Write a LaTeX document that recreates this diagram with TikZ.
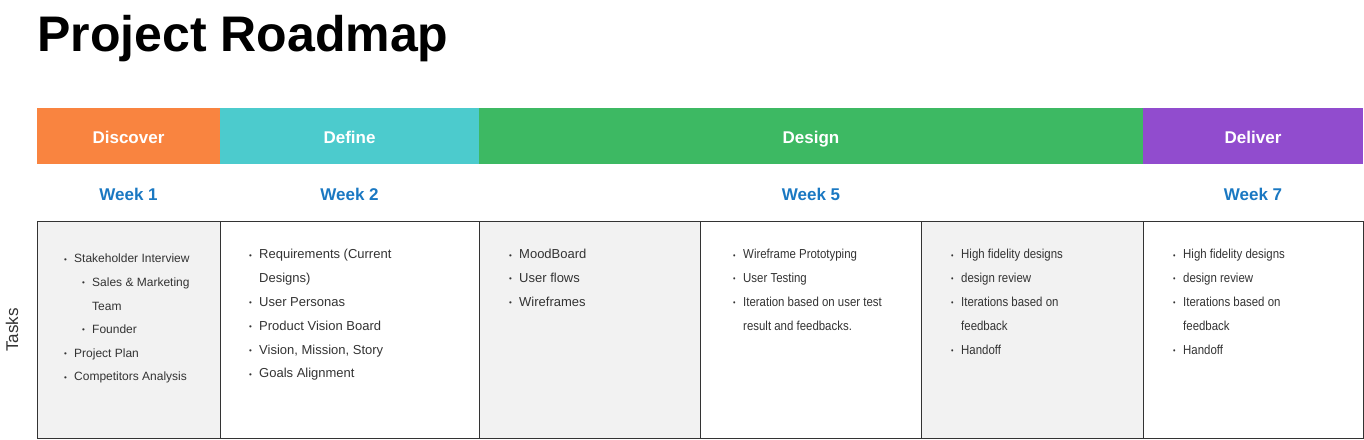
\documentclass[tikz,border=0pt]{standalone}
\usepackage{fontspec}
\setmainfont{Liberation Sans}
\newfontfamily\narrowfont[FakeStretch=0.88]{Liberation Sans}
\usetikzlibrary{positioning}
\definecolor{discoverC}{HTML}{F98440}
\definecolor{defineC}{HTML}{4CCBCD}
\definecolor{designC}{HTML}{3DB963}
\definecolor{deliverC}{HTML}{914CCE}
\definecolor{weekC}{HTML}{1A78C2}
\definecolor{boxfill}{HTML}{F2F2F2}
\definecolor{boxline}{HTML}{333333}
\tikzstyle{phase}=[inner sep=0,outer sep=0,minimum height=56,text=white,
  text height=14.2,text depth=0,font=\fontsize{17}{20}\selectfont\bfseries]
\tikzstyle{week}=[inner sep=0,text=weekC,font=\fontsize{17}{20}\selectfont\bfseries]
\tikzstyle{taskbox}=[draw=boxline,line width=1,inner sep=0,outer sep=0,minimum height=216]
\tikzstyle{tasks}=[inner sep=0,anchor=base west,text=black!80,
  font=\fontsize{13}{23.8}\selectfont]
\newcommand{\bul}{\makebox[10pt][l]{\raisebox{0.8pt}{\fontsize{8}{8}\selectfont\textbullet}}}
\newcommand{\ind}{\hspace*{10pt}}
\newcommand{\newPhase}[5]{\node[phase,fill=#3,minimum width=#4](#1)[#5]{#2};}
\newcommand{\newBox}[4]{\node[taskbox,fill=#2,minimum width=#3](#1)[#4]{};}
\newcommand{\newTasks}[4]{\node[tasks,#3](#1) at ([shift={#4}]#1box.north west)
  {\parbox[t]{200pt}{\raggedright #2}};}

\begin{document}
\begin{tikzpicture}[x=1pt,y=1pt]
      \useasboundingbox (0,0) rectangle (1364,439);
      \node[anchor=base west,inner sep=0,font=\fontsize{50}{56}\selectfont\bfseries]
        (title) at (37,387) {Project Roadmap};
      % phases
      \newPhase{discover}{Discover}{discoverC}{183}{anchor=north west,at={(37,331)}}
      \newPhase{define}{Define}{defineC}{259}{right=0pt of discover}
      \newPhase{design}{Design}{designC}{664}{right=0pt of define}
      \newPhase{deliver}{Deliver}{deliverC}{220}{right=0pt of design}
      % weeks
      \node[week] (wk1) [below=24pt of discover] {Week 1};
      \node[week] (wk2) [below=24pt of define] {Week 2};
      \node[week] (wk5) [below=24pt of design] {Week 5};
      \node[week] (wk7) [below=24pt of deliver] {Week 7};
      % task boxes
      \newBox{t1box}{boxfill}{183}{below=58pt of discover}
      \newBox{t2box}{white}{259}{right=0pt of t1box}
      \newBox{t3box}{boxfill}{221}{right=0pt of t2box}
      \newBox{t4box}{white}{221}{right=0pt of t3box}
      \newBox{t5box}{boxfill}{222}{right=0pt of t4box}
      \newBox{t6box}{white}{220}{right=0pt of t5box}
      \node[rotate=90,inner sep=0,text=black!80,font=\fontsize{17}{20}\selectfont]
        (tasklbl) at ([xshift=-25pt]t1box.west) {Tasks};
      % task lists
      \newTasks{t1}{\bul Stakeholder Interview\\
        \hspace*{18pt}\bul Sales \& Marketing\\
        \hspace*{28pt}Team\\
        \hspace*{18pt}\bul Founder\\
        \bul Project Plan\\
        \bul Competitors Analysis}{font=\fontsize{12}{23.6}\selectfont}{(27,-41)}
      \newTasks{t2}{\bul Requirements (Current\\
        \ind Designs)\\
        \bul User Personas\\
        \bul Product Vision Board\\
        \bul Vision, Mission, Story\\
        \bul Goals Alignment}{}{(29,-37)}
      \newTasks{t3}{\bul MoodBoard\\
        \bul User flows\\
        \bul Wireframes}{}{(30,-37)}
      \newTasks{t4}{\bul Wireframe Prototyping\\
        \bul User Testing\\
        \bul Iteration based on user test\\
        \ind result and feedbacks.}{font={\narrowfont\fontsize{13}{23.8}\selectfont}}{(33,-37)}
      \newTasks{t5}{\bul High fidelity designs\\
        \bul design review\\
        \bul Iterations based on\\
        \ind feedback\\
        \bul Handoff}{font={\narrowfont\fontsize{13}{23.8}\selectfont}}{(30,-37)}
      \newTasks{t6}{\bul High fidelity designs\\
        \bul design review\\
        \bul Iterations based on\\
        \ind feedback\\
        \bul Handoff}{font={\narrowfont\fontsize{13}{23.8}\selectfont}}{(30,-37)}
    \end{tikzpicture}
\end{document}
